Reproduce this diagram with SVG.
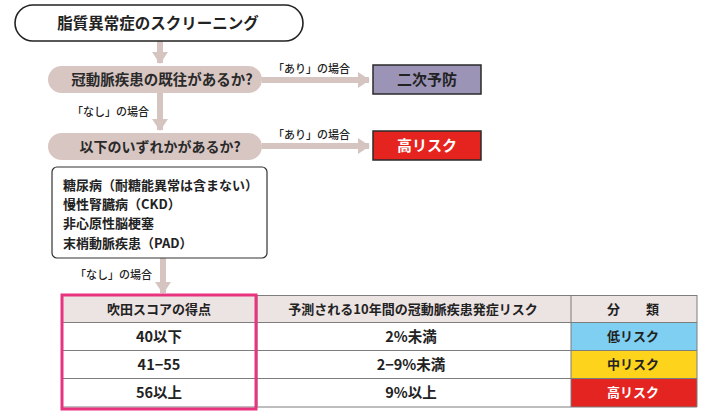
<svg xmlns="http://www.w3.org/2000/svg" width="705" height="416" viewBox="0 0 705 416">
<style>
.jp{font-family:"Noto Sans CJK JP","Noto Sans",sans-serif}
.b{font-weight:bold}
.c{text-anchor:middle}
.pill{fill:#d8c6c3}
.arr{stroke:#d6c4c1;stroke-width:6;fill:none}
.lbl{font-size:11px;fill:#222;font-weight:500}
.grid{stroke:#7d7d7d;stroke-width:1;fill:none}
.cell{font-size:14.5px;fill:#222}
</style>
<defs>
<marker id="ah" viewBox="0 0 12 16" refX="11" refY="8" markerWidth="12" markerHeight="16" orient="auto" markerUnits="userSpaceOnUse">
<path d="M0,0 L12,8 L0,16 z" fill="#d6c4c1"/>
</marker>
</defs>
<rect width="705" height="416" fill="#ffffff"/>

<g id="connectors">
<line class="arr" x1="160" y1="41" x2="160" y2="63" marker-end="url(#ah)"/>
<line class="arr" x1="160" y1="92" x2="160" y2="130" marker-end="url(#ah)"/>
<line class="arr" x1="262" y1="80" x2="369" y2="80" marker-end="url(#ah)"/>
<line class="arr" x1="262" y1="146" x2="369" y2="146" marker-end="url(#ah)"/>
<line class="arr" x1="163" y1="258" x2="163" y2="293" marker-end="url(#ah)"/>
<text class="jp lbl" x="273" y="73">「あり」の場合</text>
<text class="jp lbl" x="273" y="139">「あり」の場合</text>
<text class="jp lbl" x="72" y="116">「なし」の場合</text>
<text class="jp lbl" x="75" y="279">「なし」の場合</text>
</g>

<g id="title">
<rect x="15" y="5" width="288" height="36" rx="18" fill="#fff" stroke="#222" stroke-width="1.6"/>
<text class="jp b c" x="158" y="29" font-size="15.5" fill="#222">脂質異常症のスクリーニング</text>
</g>

<g id="q1">
<rect class="pill" x="48" y="66" width="214" height="27" rx="13.5"/>
<text class="jp b c" x="162" y="85" font-size="14.5" fill="#2a2a2a">冠動脈疾患の既往があるか?</text>
</g>

<g id="secondary">
<rect x="373" y="65" width="108" height="29" fill="#9c94b6" stroke="#2a2a2a" stroke-width="1.5"/>
<text class="jp b c" x="427" y="85" font-size="15" fill="#222">二次予防</text>
</g>

<g id="q2">
<rect class="pill" x="48" y="133" width="214" height="27" rx="13.5"/>
<text class="jp b c" x="160" y="152" font-size="14" fill="#2a2a2a">以下のいずれかがあるか?</text>
</g>

<g id="highrisk">
<rect x="373" y="131" width="108" height="29" fill="#e5231f" stroke="#2a2a2a" stroke-width="1.5"/>
<text class="jp b c" x="427" y="151" font-size="15" fill="#fff">高リスク</text>
</g>

<g id="conditions">
<rect x="52" y="167" width="215" height="91" rx="5" fill="#fff" stroke="#333" stroke-width="1.2"/>
<g class="jp" font-size="13" fill="#222" font-weight="600">
<text x="63" y="190">糖尿病（耐糖能異常は含まない）</text>
<text x="63" y="209">慢性腎臓病（CKD）</text>
<text x="63" y="228">非心原性脳梗塞</text>
<text x="63" y="248">末梢動脈疾患（PAD）</text>
</g>
</g>

<g id="table">
<rect x="62" y="295" width="635" height="27" fill="#ece3e3"/>
<rect x="571" y="322" width="126" height="28" fill="#7fcff2"/>
<rect x="571" y="350" width="126" height="28" fill="#fdd31c"/>
<rect x="571" y="378" width="126" height="29" fill="#e42421"/>
<path class="grid" d="M62,295.5 H697 M62,322.5 H697 M62,350.5 H697 M62,378.5 H697 M62,407 H697 M257,295 V407 M571,295 V407 M697,295 V407"/>
<rect x="62" y="295" width="194" height="114" fill="none" stroke="#e8337f" stroke-width="3"/>
<g class="jp b c" font-size="13" fill="#222">
<text x="159" y="314">吹田スコアの得点</text>
<text x="413" y="314">予測される10年間の冠動脈疾患発症リスク</text>
<text x="633" y="314">分　　類</text>
</g>
<g class="jp c cell" font-weight="600">
<text x="159" y="342">40以下</text>
<text x="159" y="370">41−55</text>
<text x="159" y="398">56以上</text>
<text x="411" y="342">2%未満</text>
<text x="411" y="370">2−9%未満</text>
<text x="411" y="398">9%以上</text>
</g>
<g class="jp b c" font-size="13">
<text x="633" y="341" fill="#222">低リスク</text>
<text x="633" y="369" fill="#222">中リスク</text>
<text x="633" y="397" fill="#fff">高リスク</text>
</g>
</g>
</svg>
